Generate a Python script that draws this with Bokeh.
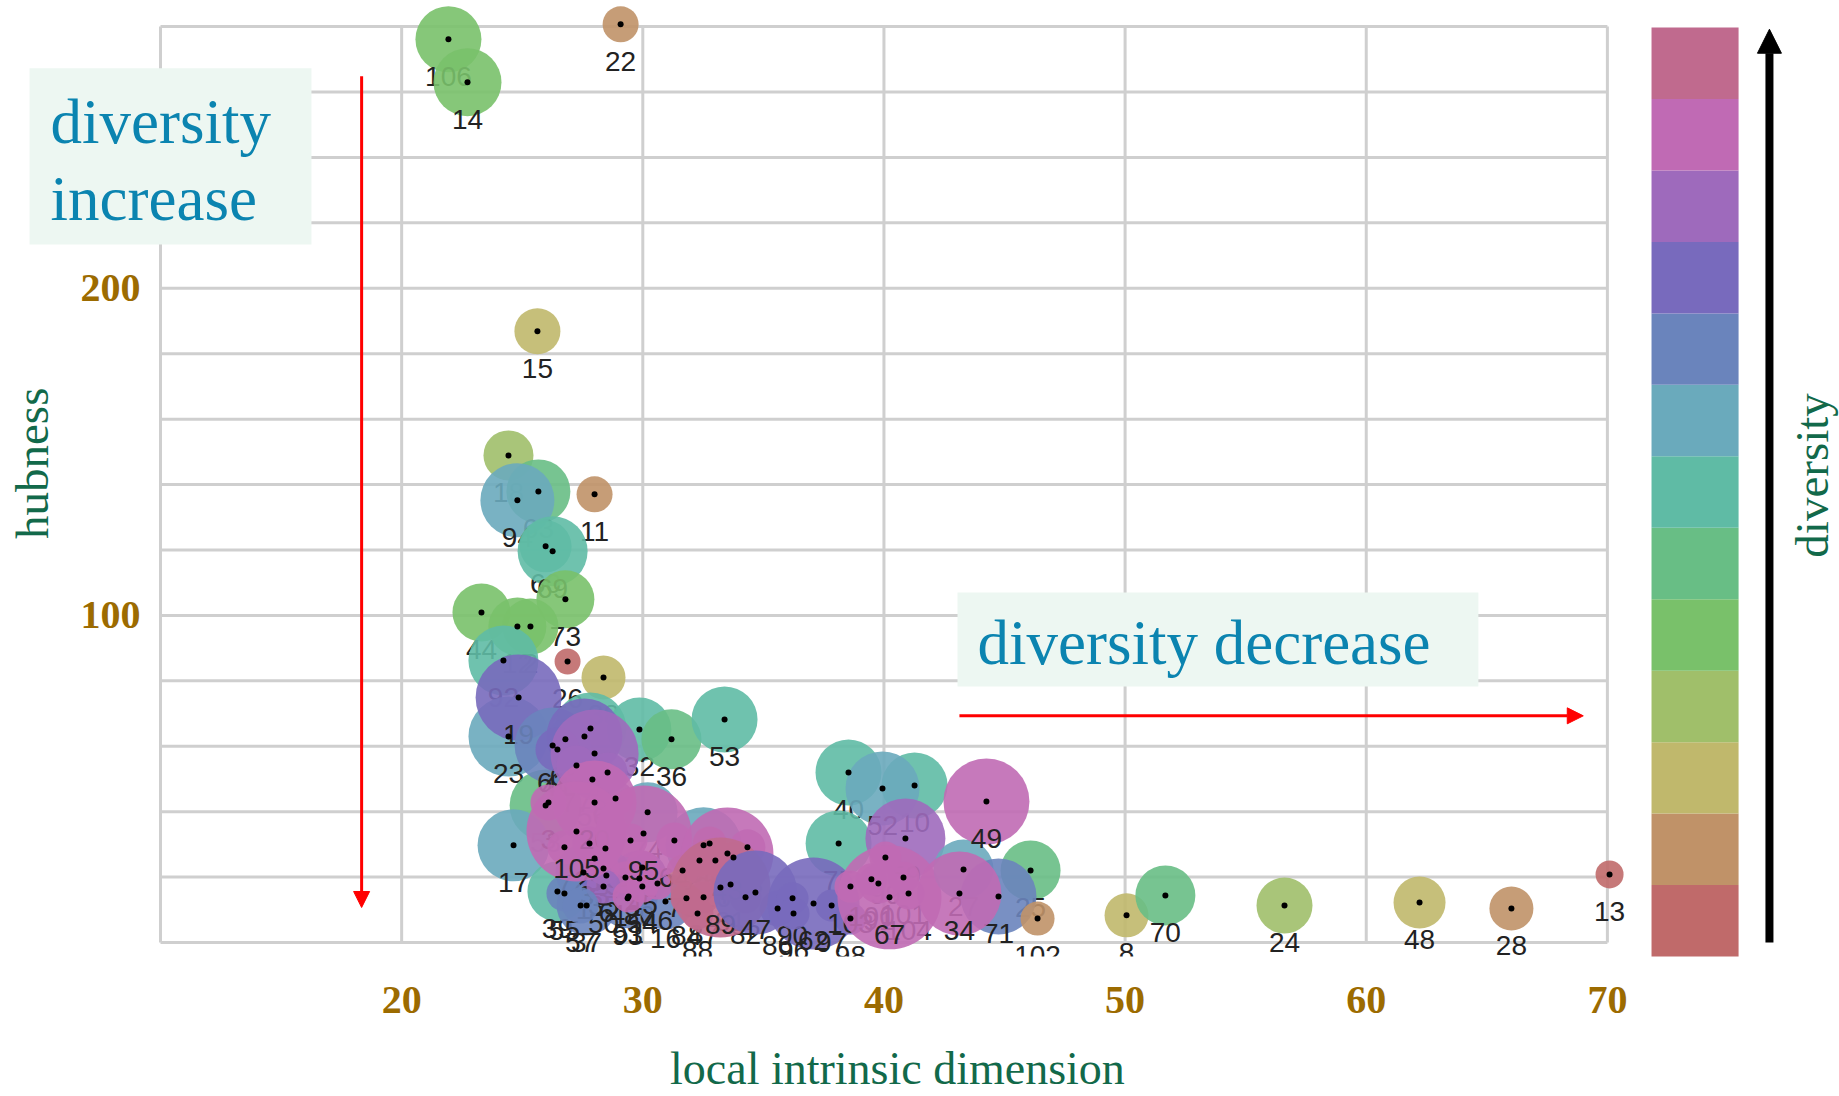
import math

from bokeh.core.properties import value
from bokeh.embed import file_html
from bokeh.models import Arrow, NormalHead, Range1d
from bokeh.plotting import figure
from bokeh.resources import INLINE

# diversity levels, low -> high
palette = ["#C06A6A", "#C09268", "#C0B86C", "#A0BF6A", "#79C16A", "#68BE85",
           "#5FBBA5", "#6AAABC", "#6A84BC", "#786ABD", "#9E6ABC", "#C06AB4", "#C06A8E"]

x_ticks = [20, 30, 40, 50, 60, 70]
y_ticks = [100, 200]
x_grid = [10, 20, 30, 40, 50, 60, 70]
y_grid = list(range(0, 281, 20))

# one entry per cluster, in drawing order
point_id = [
    "22", "106", "14", "15", "18", "63", "11", "94", "60", "69", "73", "44", "12", "2",
    "92", "26", "38", "23", "19", "30", "32", "36", "53",
    "58", "17", "39", "61", "65", "9", "41", "4", "77", "83", "56", "74", "85",
    "37", "93", "1", "6", "80", "16",
    "3", "5", "7", "21", "29", "31", "33", "35", "42", "45", "46", "50", "51", "54",
    "55", "57", "64", "66", "68", "72", "76", "78", "79", "81", "82", "84", "87", "88", "86",
    "20", "105", "95", "43", "89", "47",
    "40", "10", "52", "75", "59", "62", "90", "96", "97", "98", "99", "100", "101",
    "103", "104", "91", "67", "25", "27", "71", "34", "49", "102",
    "8", "70", "24", "48", "28", "13",
]
lid = [
    29.08, 21.94, 22.73, 25.63, 24.43, 25.67, 28.00, 24.80, 25.97, 26.26, 26.79, 23.31, 24.80, 25.34,
    24.22, 26.88, 28.37, 24.43, 24.85, 27.83, 29.86, 31.19, 33.39,
    25.97, 24.64, 26.46, 26.26, 26.79, 27.58, 26.46, 28.00, 27.25, 28.54, 27.91, 30.20, 32.52,
    27.67, 29.37, 27.54, 28.49, 29.86, 30.94,
    26.09, 28.87, 26.75, 27.79, 28.45, 29.49, 28.00, 28.37, 29.28, 29.98, 30.61, 28.37, 29.41, 29.98,
    26.75, 27.42, 31.31, 32.77, 34.34, 32.35, 33.01, 33.76, 31.65, 33.64, 34.26, 31.81, 32.52, 32.27, 35.59,
    28.00, 27.25, 30.03, 33.51, 33.22, 34.67,
    38.53, 41.27, 39.94, 38.12, 40.89, 37.08, 36.21, 36.25, 37.83, 38.61, 40.06, 39.48, 40.81,
    38.61, 41.02, 39.77, 40.23, 46.08, 43.30, 44.75, 43.13, 44.25, 46.37,
    50.06, 51.67, 56.61, 62.21, 66.02, 70.09,
]
hub = [
    280.7, 276.1, 263.0, 186.9, 148.9, 137.9, 137.0, 135.2, 121.1, 119.6, 104.9, 100.9, 96.6, 96.6,
    86.2, 85.9, 81.0, 63.0, 74.9, 65.4, 65.1, 62.1, 68.2,
    41.9, 29.7, 15.6, 60.2, 62.1, 63.0, 59.0, 57.8, 54.1, 52.0, 49.8, 39.8, 29.7,
    11.3, 13.5, 21.4, 20.5, 19.6, 12.5,
    42.8, 44.0, 29.1, 30.3, 28.7, 31.2, 25.7, 22.6, 19.9, 22.9, 18.0, 17.1, 14.1, 17.1,
    15.0, 11.3, 31.2, 30.3, 29.1, 25.1, 25.1, 26.0, 22.0, 17.7, 13.8, 13.5, 13.8, 8.9, 10.4,
    42.8, 33.9, 33.3, 27.2, 16.8, 15.3,
    52.0, 48.0, 47.1, 30.3, 31.8, 11.9, 13.5, 8.9, 11.3, 7.3, 26.0, 19.3, 19.9,
    17.1, 15.0, 18.0, 13.8, 22.0, 22.3, 14.1, 15.0, 43.1, 7.3,
    8.3, 14.4, 11.3, 12.2, 10.4, 20.8,
]
diversity = [
    1, 4, 4, 2, 3, 5, 1, 7, 6, 6, 4, 4, 4, 4,
    6, 0, 2, 7, 9, 6, 6, 5, 6,
    5, 7, 6, 8, 8, 9, 9, 10, 10, 10, 10, 7, 7,
    8, 8, 8, 9, 9, 8,
    11, 10, 11, 11, 11, 11, 11, 11, 11, 11, 11, 10, 11, 11,
    8, 8, 11, 12, 11, 12, 12, 12, 12, 12, 12, 12, 12, 12, 9,
    11, 11, 11, 11, 12, 9,
    6, 6, 7, 6, 10, 9, 9, 9, 9, 9, 11, 11, 11,
    11, 11, 11, 11, 5, 7, 8, 11, 11, 1,
    2, 5, 3, 2, 1, 0,
]
weight = [
    0.36, 0.66, 0.68, 0.46, 0.50, 0.64, 0.36, 0.74, 0.52, 0.70, 0.58, 0.58, 0.58, 0.56,
    0.70, 0.26, 0.44, 0.80, 0.86, 0.72, 0.64, 0.60, 0.66,
    0.72, 0.72, 0.60, 0.76, 0.40, 0.76, 0.44, 0.88, 0.40, 0.40, 0.40, 0.60, 0.76,
    0.60, 0.60, 0.56, 0.52, 0.56, 0.56,
    0.36, 0.36, 0.34, 0.34, 0.32, 0.34, 0.32, 0.32, 0.32, 0.34, 0.32, 0.34, 0.32, 0.32,
    0.36, 0.36, 0.36, 0.34, 0.36, 0.32, 0.32, 0.32, 0.32, 0.32, 0.32, 0.32, 0.32, 0.32, 0.36,
    0.84, 1.00, 0.96, 0.92, 1.00, 0.84,
    0.66, 0.66, 0.74, 0.66, 0.80, 0.92, 0.32, 0.32, 0.32, 0.32, 0.32, 0.32, 0.32,
    0.32, 0.32, 0.40, 1.04, 0.60, 0.60, 0.76, 0.84, 0.86, 0.34,
    0.44, 0.60, 0.56, 0.52, 0.44, 0.28,
]

BUBBLE_PX = 100          # bubble diameter in pixels for a weight of 1
SERIF = "Liberation Serif"
TICK_COLOR = "#9C6B00"
TITLE_COLOR = "#12694A"
NOTE_COLOR = "#0B84B0"
NOTE_FILL = "#EDF7F2"
GRID_COLOR = "#CFCFCF"

# the frame covers the whole page; the ranges put the 10-70 x 0-280 box where it belongs
p = figure(width=1839, height=1096, title=None,
           x_range=Range1d(3.365, 79.625), y_range=Range1d(-47.08, 287.98),
           x_axis_location=None, y_axis_location=None,
           output_backend="svg", toolbar_location=None, min_border=0)
p.outline_line_color = None
p.grid.grid_line_color = None
p.background_fill_color = "white"
p.border_fill_color = "white"

# grid box
p.segment(x0=x_grid, y0=[y_grid[0]] * len(x_grid), x1=x_grid, y1=[y_grid[-1]] * len(x_grid),
          line_color=GRID_COLOR, line_width=3)
p.segment(x0=[x_grid[0]] * len(y_grid), y0=y_grid, x1=[x_grid[-1]] * len(y_grid), y1=y_grid,
          line_color=GRID_COLOR, line_width=3)

# bubbles and their ids, one after another so later bubbles cover earlier ids
for i in range(len(point_id)):
    p.scatter(x=[lid[i]], y=[hub[i]], marker="circle", size=weight[i] * BUBBLE_PX,
              fill_color=palette[diversity[i]], fill_alpha=0.9, line_color=None)
    p.text(x=[lid[i]], y=[hub[i]], text=[point_id[i]], y_offset=37,
           text_align="center", text_baseline="middle",
           text_font=value("Liberation Sans"), text_font_size="28px", text_color="#222222")

# centre markers on top
p.scatter(x=lid, y=hub, marker="circle", size=6, fill_color="black", line_color=None)

# plot area ends just below zero: cut anything hanging lower
p.quad(left=x_grid[0] - 1, right=x_grid[-1] + 1.5, bottom=-47.08, top=-4.3,
       fill_color="white", line_color=None)

# tick labels
p.text(x=x_ticks, y=[-17.7] * len(x_ticks), text=[str(t) for t in x_ticks],
       text_align="center", text_baseline="middle",
       text_font=value(SERIF), text_font_style="bold", text_font_size="40px",
       text_color=TICK_COLOR)
p.text(x=[9.17] * len(y_ticks), y=y_ticks, text=[str(t) for t in y_ticks],
       text_align="right", text_baseline="middle",
       text_font=value(SERIF), text_font_style="bold", text_font_size="40px",
       text_color=TICK_COLOR)

# axis titles
p.text(x=[4.69], y=[146.5], text=["hubness"], angle=math.pi / 2,
       text_align="center", text_baseline="middle",
       text_font=value(SERIF), text_font_size="47px", text_color=TITLE_COLOR)
p.text(x=[40.56], y=[-38.6], text=["local intrinsic dimension"],
       text_align="center", text_baseline="middle",
       text_font=value(SERIF), text_font_size="46px", text_color=TITLE_COLOR)

# notes
p.quad(left=[4.57, 43.05], right=[16.26, 64.65], bottom=[213.4, 78.3], top=[267.3, 107.0],
       fill_color=NOTE_FILL, line_color=None)
p.text(x=[5.44, 5.44, 43.88], y=[250.8, 227.2, 91.7],
       text=["diversity", "increase", "diversity decrease"],
       text_align="left", text_baseline="alphabetic",
       text_font=value(SERIF), text_font_size="63px", text_color=NOTE_COLOR)

p.add_layout(Arrow(end=NormalHead(size=16, fill_color="red", line_color="red"),
                   x_start=18.34, y_start=264.8, x_end=18.34, y_end=10.7,
                   line_color="red", line_width=3))
p.add_layout(Arrow(end=NormalHead(size=16, fill_color="red", line_color="red"),
                   x_start=43.13, y_start=69.3, x_end=69.0, y_end=69.3,
                   line_color="red", line_width=3))

# colour key on the right: one band per diversity level
levels = list(range(len(palette)))
key_bottom, key_top = -4.28, 279.7
band = (key_top - key_bottom) / len(levels)
p.quad(left=71.83, right=75.44,
       bottom=[key_bottom + lv * band for lv in levels],
       top=[key_bottom + (lv + 1) * band for lv in levels],
       fill_color=palette, line_color=None)
p.add_layout(Arrow(end=NormalHead(size=24, fill_color="black", line_color="black"),
                   x_start=76.72, y_start=0.0, x_end=76.72, y_end=279.2,
                   line_color="black", line_width=8))
p.text(x=[78.5], y=[142.8], text=["diversity"], angle=math.pi / 2,
       text_align="center", text_baseline="middle",
       text_font=value(SERIF), text_font_size="47px", text_color=TITLE_COLOR)

open("out.html", "w").write(file_html(p, INLINE))
